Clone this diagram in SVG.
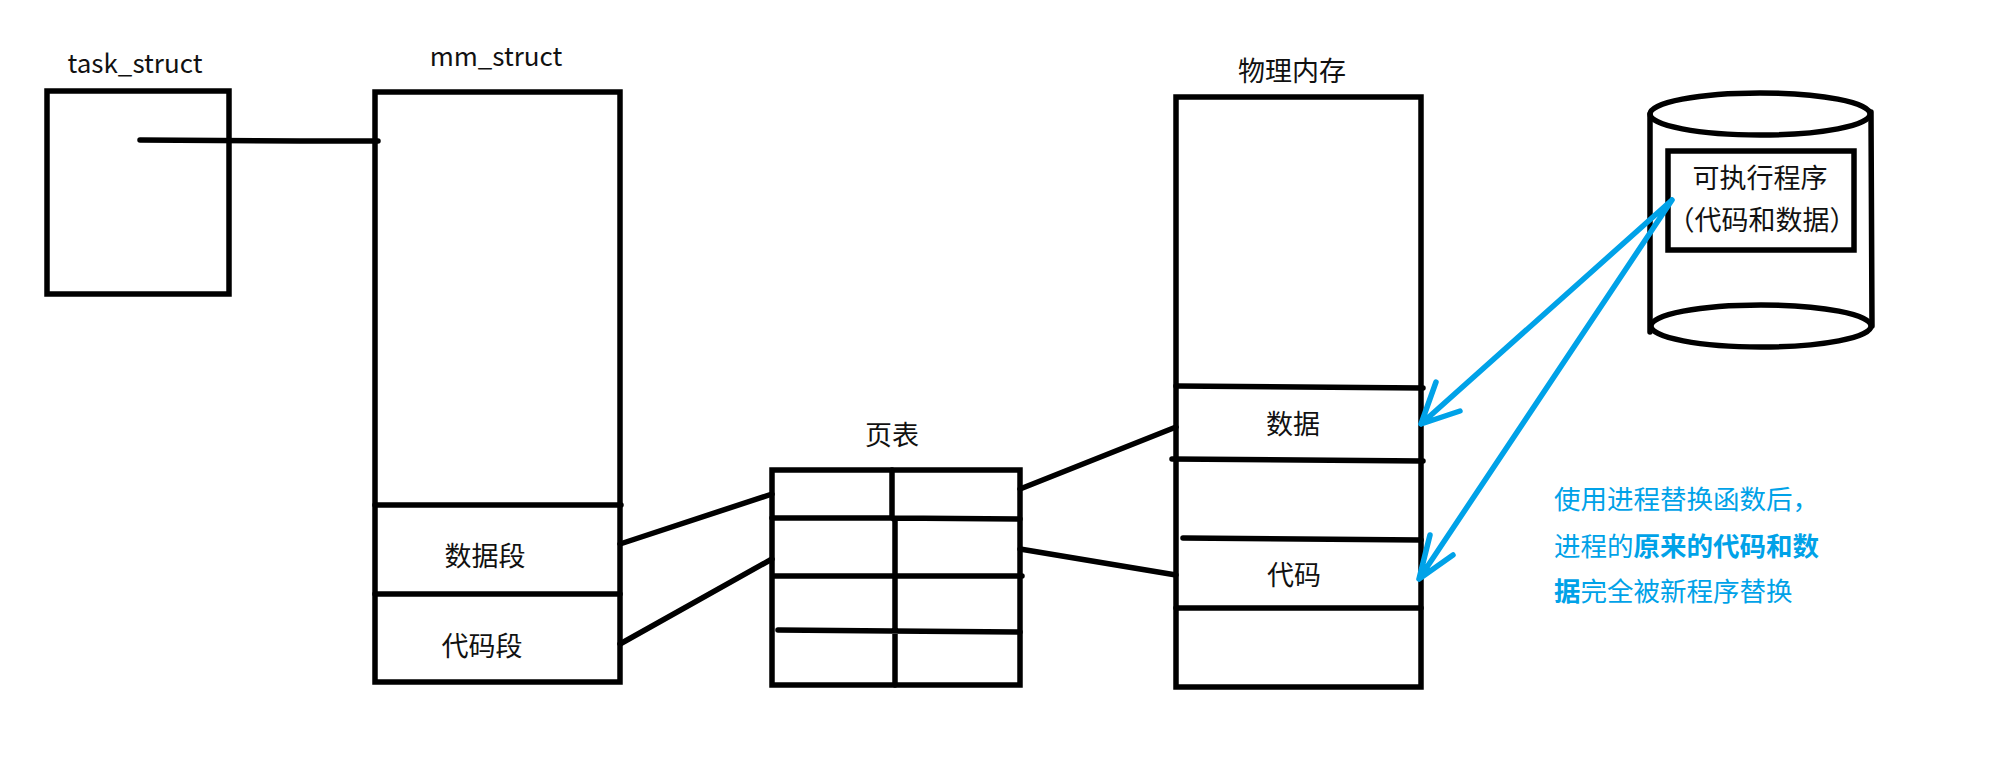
<svg xmlns="http://www.w3.org/2000/svg" width="2004" height="757" viewBox="0 0 2004 757">
<style>
.b{fill:none;stroke:#000;stroke-width:5.5}
.c{fill:none;stroke:#000;stroke-width:5.5;stroke-linecap:round}
.a{fill:none;stroke:#00a2e8;stroke-width:5.5;stroke-linecap:round;stroke-linejoin:round}
text{font-family:"Noto Sans CJK SC","Noto Sans",sans-serif;font-size:27px;fill:#111;text-anchor:middle}
.l{font-size:26px}
.n{fill:#00a2e8;text-anchor:start;font-size:26.5px}
.s{font-weight:700}
</style>
<rect width="2004" height="757" fill="#fff"/>
<g id="task_struct"><rect class="b" x="47" y="91" width="182" height="203"/><text class="l" x="135" y="73">task_struct</text></g>
<g id="mm_struct"><rect class="b" x="375" y="92" width="245" height="590"/><path class="c" d="M375 505H621M375 594H620"/><text class="l" x="496" y="66">mm_struct</text><text x="485" y="566">数据段</text><text x="482" y="656">代码段</text></g>
<g id="page_table"><rect class="b" x="772" y="470" width="248" height="215"/><path class="c" d="M892 470V518L895 520V685M772 518H892L1020 519M774 576H1022M778 630L892 631L1020 632"/><text x="892" y="445">页表</text></g>
<g id="memory"><rect class="b" x="1176" y="97" width="245" height="590"/><path class="c" d="M1176 386L1423 388M1172 459L1423 461M1183 538L1421 540M1176 608H1421"/><text x="1292" y="81">物理内存</text><text x="1293" y="434">数据</text><text x="1294" y="585">代码</text></g>
<g id="disk"><ellipse class="b" cx="1760" cy="114" rx="110" ry="21"/><ellipse class="b" cx="1761" cy="326" rx="110" ry="21"/><path class="c" d="M1650 114V332M1871 112L1872 326"/><rect class="b" x="1668" y="151" width="186" height="99"/><text x="1760" y="188">可执行程序</text><text x="1762" y="230">（代码和数据）</text></g>
<g id="connectors"><path class="c" d="M140 140L300 141H378M620 544L772 494M620 644L772 559M1020 489L1176 427M1020 549L1176 575"/>
<path class="a" d="M1672 200L1421 424M1436 382L1421 424L1460 411M1672 200L1419 579M1430 535L1419 579L1453 555"/></g>
<g id="note"><text class="n" x="1554" y="509">使用进程替换函数后，</text><text class="n" x="1554" y="556">进程的<tspan class="s">原来的代码和数</tspan></text><text class="n" x="1554" y="601"><tspan class="s">据</tspan>完全被新程序替换</text></g>
</svg>
